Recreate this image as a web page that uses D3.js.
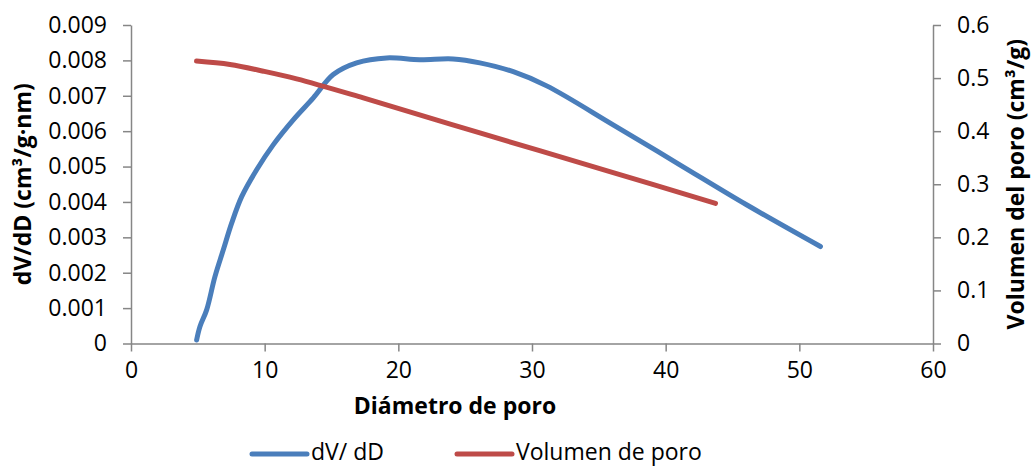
<!DOCTYPE html>
<html>
<head>
<meta charset="utf-8">
<script src="https://cdn.jsdelivr.net/npm/d3@7"></script>
<style>
  html, body { margin: 0; padding: 0; background: #fff; }
  svg { display: block; font-family: "Open Sans", "Noto Sans", sans-serif; }
</style>
</head>
<body>
<svg id="chart" width="1032" height="466"></svg>
<script>
// Pore size distribution (dV/dD) and cumulative pore volume vs pore diameter
const dvDiameter = [4.91, 5.16, 5.66, 6.28, 6.9, 7.53, 8.28, 9.4, 10.65, 12.14, 13.64, 15.13, 16.88, 19.13, 21.6, 24.1, 26.1, 28.6, 31.1, 36.07, 41.06, 46.05, 51.58];
const dvValues = [0.00010, 0.00048, 0.00095, 0.00189, 0.00264, 0.00340, 0.00415, 0.00491, 0.00562, 0.00632, 0.00694, 0.00760, 0.00793, 0.00807, 0.00802, 0.00804, 0.00793, 0.00768, 0.00728, 0.00618, 0.00505, 0.00392, 0.00274];

const volDiameter = [4.9, 7.4, 9.9, 12.39, 17.38, 26.1, 36.07, 43.73];
const volValues = [0.532, 0.5255, 0.513, 0.4985, 0.4626, 0.3966, 0.322, 0.264];

const xTicks = [0, 10, 20, 30, 40, 50, 60];
const leftTicks = [0, 0.001, 0.002, 0.003, 0.004, 0.005, 0.006, 0.007, 0.008, 0.009];
const rightTicks = [0, 0.1, 0.2, 0.3, 0.4, 0.5, 0.6];

const seriesNames = ["dV/ dD", "Volumen de poro"];
const seriesColors = ["#4A7EBB", "#BE4B48"];

const plot = { left: 131, right: 933, top: 25, bottom: 343.5 };
const axisColor = "#868686";
const fontSize = 23;

const svg = d3.select("#chart");

const x = d3.scaleLinear().domain([0, 60]).range([plot.left, plot.right]);
const yL = d3.scaleLinear().domain([0, 0.009]).range([plot.bottom, plot.top]);
const yR = d3.scaleLinear().domain([0, 0.6]).range([plot.bottom, plot.top]);

function styleAxis(g) {
  g.select(".domain").attr("stroke", axisColor).attr("stroke-width", 1.5);
  g.selectAll(".tick line").attr("stroke", axisColor).attr("stroke-width", 1.5);
  g.selectAll(".tick text").attr("fill", "#000").attr("font-size", fontSize)
    .attr("font-family", "'Open Sans', 'Noto Sans', sans-serif");
}

svg.append("g")
  .attr("transform", `translate(0,${plot.bottom})`)
  .call(d3.axisBottom(x).tickValues(xTicks).tickSize(8).tickPadding(10).tickSizeOuter(0).tickFormat(d3.format("d")))
  .call(styleAxis);

svg.append("g")
  .attr("transform", `translate(${plot.left},0)`)
  .call(d3.axisLeft(yL).tickValues(leftTicks).tickSize(8).tickPadding(16).tickSizeOuter(0)
    .tickFormat(d => d === 0 ? "0" : d3.format(".3f")(d)))
  .call(styleAxis);

svg.append("g")
  .attr("transform", `translate(${plot.right},0)`)
  .call(d3.axisRight(yR).tickValues(rightTicks).tickSize(8).tickPadding(16).tickSizeOuter(0)
    .tickFormat(d => d === 0 ? "0" : d3.format(".1f")(d)))
  .call(styleAxis);

// Series lines
const dvLine = d3.line()
  .x((d, i) => x(dvDiameter[i]))
  .y(d => yL(d))
  .curve(d3.curveCatmullRom.alpha(0.5));

const volLine = d3.line()
  .x((d, i) => x(volDiameter[i]))
  .y(d => yR(d))
  .curve(d3.curveCatmullRom.alpha(0.5));

svg.append("path")
  .datum(dvValues)
  .attr("d", dvLine)
  .attr("fill", "none")
  .attr("stroke", seriesColors[0])
  .attr("stroke-width", 5)
  .attr("stroke-linecap", "round")
  .attr("stroke-linejoin", "round");

svg.append("path")
  .datum(volValues)
  .attr("d", volLine)
  .attr("fill", "none")
  .attr("stroke", seriesColors[1])
  .attr("stroke-width", 5)
  .attr("stroke-linecap", "round")
  .attr("stroke-linejoin", "round");

// Axis titles
svg.append("text")
  .attr("x", 455).attr("y", 408)
  .attr("text-anchor", "middle").attr("dominant-baseline", "middle")
  .attr("font-size", fontSize).attr("font-weight", "bold")
  .text("Diámetro de poro");

svg.append("text")
  .attr("transform", `translate(25,${(plot.top + plot.bottom) / 2}) rotate(-90)`)
  .attr("text-anchor", "middle").attr("dominant-baseline", "middle")
  .attr("font-size", fontSize).attr("font-weight", "bold")
  .text("dV/dD (cm³/g·nm)");

svg.append("text")
  .attr("transform", `translate(1018,${(plot.top + plot.bottom) / 2}) rotate(-90)`)
  .attr("text-anchor", "middle").attr("dominant-baseline", "middle")
  .attr("font-size", fontSize).attr("font-weight", "bold")
  .text("Volumen del poro (cm³/g)");

// Legend
const legendX = [252, 457];
const legend = svg.append("g");
seriesNames.forEach((name, i) => {
  legend.append("line")
    .attr("x1", legendX[i]).attr("x2", legendX[i] + 55)
    .attr("y1", 454).attr("y2", 454)
    .attr("stroke", seriesColors[i]).attr("stroke-width", 5)
    .attr("stroke-linecap", "round");
  legend.append("text")
    .attr("x", legendX[i] + 59).attr("y", 454)
    .attr("dominant-baseline", "middle")
    .attr("font-size", fontSize)
    .text(name);
});
</script>
</body>
</html>
